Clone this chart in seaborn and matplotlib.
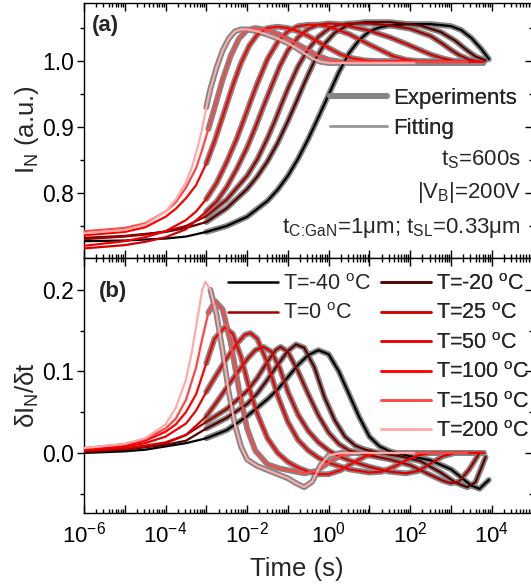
import numpy as np
import pandas as pd
import matplotlib
matplotlib.use("Agg")
import matplotlib.pyplot as plt
import seaborn as sns
from matplotlib.ticker import LogLocator, MultipleLocator, NullFormatter, FuncFormatter
from matplotlib.lines import Line2D

# ---------------------------------------------------------------- data
TEMPS = [-40, -20, 0, 25, 50, 100, 150, 200]
COLORS = ["#000000", "#5a0000", "#a00000", "#d40000", "#ee0000", "#ff0000", "#ff4545", "#ffaaaa"]
EXP_COLOR = "#858585"
EXP_START = -3.0                     # log10(t) where the measurement starts (1 ms)
FIT_END = [3.93, 3.85, 3.7, 3.4, 3.8, 3.8, 3.4, 2.1]   # log10(t) where each fit line stops

# (a) normalised current I_N versus log10(t)
LOGT_IN_M40 = [-6, -5, -4, -3.5, -3, -2.5, -2, -1.5, -1.25, -1, -0.75, -0.5, -0.25, 0, 0.25, 0.5, 0.75, 1, 1.25, 1.5, 2, 2.5, 3, 3.25, 3.5, 3.75, 3.93]
IN_M40 = [0.727, 0.728, 0.731, 0.734, 0.741, 0.750, 0.764, 0.788, 0.805, 0.826, 0.852, 0.882, 0.915, 0.949, 0.983, 1.012, 1.032, 1.045, 1.051, 1.054, 1.056, 1.056, 1.053, 1.047, 1.035, 1.018, 1.003]

LOGT_IN_M20 = [-6, -5, -4, -3.5, -3, -2.5, -2, -1.75, -1.5, -1.25, -1, -0.8, -0.6, -0.35, -0.1, 0.15, 0.4, 0.65, 0.9, 1.5, 2.25, 2.75, 3.1, 3.4, 3.6, 3.85]
IN_M20 = [0.732, 0.735, 0.741, 0.747, 0.756, 0.777, 0.806, 0.825, 0.848, 0.876, 0.909, 0.937, 0.966, 1.000, 1.026, 1.043, 1.052, 1.057, 1.059, 1.059, 1.054, 1.044, 1.031, 1.016, 1.007, 1.001]

LOGT_IN_0 = [-6, -5, -4.5, -4, -3.5, -3, -2.5, -2, -1.75, -1.5, -1.3, -1.18, -1, -0.75, -0.5, -0.25, 0, 0.25, 0.5, 1, 1.5, 2, 2.5, 2.8, 3, 3.2, 3.45, 3.7, 3.8]
IN_0 = [0.730, 0.734, 0.737, 0.742, 0.750, 0.765, 0.790, 0.826, 0.851, 0.883, 0.912, 0.931, 0.958, 0.992, 1.018, 1.037, 1.049, 1.055, 1.057, 1.057, 1.054, 1.049, 1.038, 1.026, 1.017, 1.009, 1.002, 0.999, 0.999]

LOGT_IN_25 = [-6, -5, -4.5, -4, -3.5, -3, -2.75, -2.5, -2.25, -2, -1.8, -1.6, -1.4, -1.2, -1, -0.75, -0.5, -0.25, 0, 0.25, 0.5, 1, 1.5, 1.9, 2.2, 2.5, 2.8, 3.1, 3.4, 3.8]
IN_25 = [0.716, 0.721, 0.726, 0.733, 0.745, 0.772, 0.787, 0.809, 0.837, 0.869, 0.899, 0.931, 0.962, 0.992, 1.016, 1.036, 1.049, 1.055, 1.057, 1.056, 1.053, 1.046, 1.036, 1.026, 1.018, 1.010, 1.004, 1.000, 0.999, 0.999]

LOGT_IN_50 = [-6, -5, -4.5, -4, -3.5, -3.25, -3, -2.75, -2.5, -2.25, -2.05, -1.92, -1.75, -1.5, -1.25, -1, -0.75, -0.5, -0.25, 0, 0.5, 1, 1.3, 1.6, 1.9, 2.2, 2.5, 3.8]
IN_50 = [0.720, 0.727, 0.733, 0.742, 0.759, 0.772, 0.791, 0.815, 0.847, 0.883, 0.916, 0.938, 0.966, 1.003, 1.029, 1.045, 1.053, 1.055, 1.055, 1.052, 1.041, 1.025, 1.016, 1.007, 1.002, 1.000, 0.999, 0.999]

LOGT_IN_100 = [-6, -5, -4.5, -4, -3.75, -3.5, -3.25, -3, -2.8, -2.55, -2.35, -2.15, -1.95, -1.75, -1.5, -1.25, -1, -0.75, -0.5, -0.25, 0, 0.3, 0.6, 0.9, 1.2, 3.8]
IN_100 = [0.736, 0.741, 0.748, 0.764, 0.776, 0.792, 0.812, 0.845, 0.878, 0.925, 0.963, 0.997, 1.023, 1.040, 1.050, 1.052, 1.050, 1.045, 1.038, 1.029, 1.020, 1.010, 1.004, 1.001, 1.000, 0.999]

LOGT_IN_150 = [-6, -5, -4.5, -4, -3.75, -3.5, -3.25, -3.1, -2.95, -2.78, -2.6, -2.4, -2.2, -2.0, -1.8, -1.5, -1.2, -0.9, -0.6, -0.3, 0, 0.3, 0.6, 3.4, 3.8]
IN_150 = [0.742, 0.747, 0.754, 0.772, 0.786, 0.808, 0.838, 0.866, 0.897, 0.933, 0.972, 1.008, 1.034, 1.047, 1.050, 1.047, 1.040, 1.030, 1.020, 1.009, 1.002, 0.999, 0.999, 0.999, 0.999]

LOGT_IN_200 = [-6, -5, -4.5, -4, -3.75, -3.5, -3.35, -3.2, -3.1, -3.0, -2.9, -2.75, -2.6, -2.45, -2.3, -2.15, -2.0, -1.75, -1.5, -1.25, -1, -0.8, -0.6, -0.4, -0.2, 0, 0.3, 2.1, 3.8]
IN_200 = [0.739, 0.744, 0.752, 0.772, 0.790, 0.816, 0.840, 0.872, 0.898, 0.930, 0.958, 0.990, 1.016, 1.034, 1.045, 1.048, 1.048, 1.045, 1.040, 1.034, 1.027, 1.020, 1.012, 1.004, 0.999, 0.997, 0.997, 0.997, 0.997]

# (b) derivative dI_N/dt (per decade) versus log10(t)
LOGT_D_M40 = [-6, -5, -4.5, -4, -3.5, -3, -2.5, -2, -1.5, -1.25, -1, -0.75, -0.5, -0.25, 0, 0.25, 0.5, 0.75, 1, 1.25, 1.5, 2, 2.5, 3, 3.25, 3.5, 3.7, 3.93]
D_M40 = [0.0, 0.002, 0.004, 0.008, 0.012, 0.018, 0.028, 0.045, 0.066, 0.078, 0.093, 0.108, 0.120, 0.126, 0.121, 0.100, 0.072, 0.044, 0.020, 0.008, 0.002, -0.004, -0.009, -0.020, -0.030, -0.040, -0.044, -0.033]

LOGT_D_M20 = [-6, -5, -4.5, -4, -3.5, -3, -2.5, -2, -1.75, -1.5, -1.25, -1, -0.8, -0.6, -0.35, -0.1, 0.15, 0.4, 0.65, 0.9, 1.25, 1.75, 2.25, 2.75, 3.1, 3.4, 3.6, 3.85]
D_M20 = [0.001, 0.004, 0.007, 0.010, 0.015, 0.030, 0.043, 0.060, 0.073, 0.090, 0.108, 0.125, 0.133, 0.129, 0.105, 0.068, 0.040, 0.020, 0.009, 0.004, 0.0, -0.004, -0.010, -0.024, -0.036, -0.042, -0.036, -0.005]

LOGT_D_0 = [-6, -5, -4.5, -4, -3.5, -3, -2.5, -2, -1.75, -1.5, -1.3, -1.18, -1, -0.75, -0.5, -0.25, 0, 0.25, 0.5, 1, 1.5, 2, 2.5, 2.8, 3, 3.2, 3.45, 3.7, 3.8]
D_0 = [0.002, 0.005, 0.008, 0.012, 0.022, 0.038, 0.054, 0.076, 0.092, 0.112, 0.126, 0.130, 0.124, 0.100, 0.072, 0.046, 0.025, 0.011, 0.003, -0.003, -0.008, -0.015, -0.027, -0.034, -0.037, -0.035, -0.020, 0.0, 0.0]

LOGT_D_25 = [-6, -5, -4.5, -4, -3.5, -3, -2.75, -2.5, -2.25, -2, -1.8, -1.6, -1.4, -1.2, -1, -0.75, -0.5, -0.25, 0, 0.25, 0.5, 1, 1.5, 1.9, 2.2, 2.5, 2.8, 3.1, 3.4, 3.8]
D_25 = [0.003, 0.006, 0.009, 0.013, 0.022, 0.045, 0.062, 0.080, 0.098, 0.115, 0.126, 0.130, 0.124, 0.104, 0.075, 0.047, 0.027, 0.013, 0.003, -0.004, -0.009, -0.017, -0.023, -0.025, -0.022, -0.013, -0.004, 0.0, 0.0, 0.0]

LOGT_D_50 = [-6, -5, -4.5, -4, -3.5, -3.25, -3, -2.75, -2.5, -2.25, -2.05, -1.92, -1.75, -1.5, -1.25, -1, -0.75, -0.5, -0.25, 0, 0.5, 1, 1.3, 1.6, 1.9, 2.2, 2.5, 3.8]
D_50 = [0.004, 0.008, 0.012, 0.020, 0.036, 0.052, 0.075, 0.096, 0.116, 0.134, 0.145, 0.147, 0.140, 0.110, 0.070, 0.038, 0.016, 0.003, -0.006, -0.012, -0.020, -0.024, -0.023, -0.017, -0.009, -0.003, 0.0, 0.0]

LOGT_D_100 = [-6, -5, -4.5, -4, -3.75, -3.5, -3.25, -3, -2.8, -2.55, -2.35, -2.15, -1.95, -1.75, -1.5, -1.25, -1, -0.75, -0.5, -0.25, 0, 0.3, 0.6, 0.9, 1.2, 3.8]
D_100 = [0.005, 0.010, 0.015, 0.026, 0.035, 0.050, 0.072, 0.110, 0.140, 0.154, 0.146, 0.118, 0.080, 0.048, 0.018, 0.0, -0.011, -0.018, -0.023, -0.026, -0.026, -0.021, -0.012, -0.004, 0.0, 0.0]

LOGT_D_150 = [-6, -5, -4.5, -4, -3.75, -3.5, -3.25, -3.1, -2.95, -2.78, -2.6, -2.4, -2.2, -2.0, -1.8, -1.5, -1.2, -0.9, -0.6, -0.3, 0, 0.3, 0.6, 3.4, 3.8]
D_150 = [0.006, 0.011, 0.017, 0.030, 0.042, 0.065, 0.105, 0.140, 0.172, 0.186, 0.176, 0.135, 0.078, 0.030, 0.003, -0.014, -0.019, -0.022, -0.025, -0.022, -0.012, -0.003, 0.0, 0.0, 0.0]

LOGT_D_200 = [-6, -5, -4.5, -4, -3.75, -3.5, -3.35, -3.2, -3.1, -3.02, -2.9, -2.75, -2.6, -2.45, -2.3, -2.15, -2.0, -1.75, -1.5, -1.25, -1, -0.8, -0.6, -0.4, -0.2, 0, 0.3, 2.1, 3.8]
D_200 = [0.006, 0.011, 0.018, 0.035, 0.055, 0.090, 0.125, 0.170, 0.200, 0.210, 0.200, 0.170, 0.125, 0.075, 0.035, 0.008, -0.008, -0.016, -0.021, -0.026, -0.031, -0.037, -0.042, -0.035, -0.015, -0.003, 0.0, 0.0, 0.0]

IN_CURVES = [(LOGT_IN_M40, IN_M40), (LOGT_IN_M20, IN_M20), (LOGT_IN_0, IN_0), (LOGT_IN_25, IN_25),
             (LOGT_IN_50, IN_50), (LOGT_IN_100, IN_100), (LOGT_IN_150, IN_150), (LOGT_IN_200, IN_200)]
D_CURVES = [(LOGT_D_M40, D_M40), (LOGT_D_M20, D_M20), (LOGT_D_0, D_0), (LOGT_D_25, D_25),
            (LOGT_D_50, D_50), (LOGT_D_100, D_100), (LOGT_D_150, D_150), (LOGT_D_200, D_200)]


def to_frame(curves):
    rows = []
    for temp, (lt, val) in zip(TEMPS, curves):
        for x, y in zip(lt, val):
            rows.append({"T": temp, "logt": x, "t": 10.0 ** x, "v": y})
    return pd.DataFrame(rows)


df_in = to_frame(IN_CURVES)
df_d = to_frame(D_CURVES)

# ---------------------------------------------------------------- style
sns.set_theme(style="ticks")
plt.rcParams["font.family"] = ["Liberation Sans", "DejaVu Sans"]
plt.rcParams["mathtext.fontset"] = "custom"
plt.rcParams["mathtext.rm"] = "Liberation Sans"
plt.rcParams["mathtext.it"] = "Liberation Sans:italic"
plt.rcParams["mathtext.bf"] = "Liberation Sans:bold"
plt.rcParams["mathtext.default"] = "regular"
plt.rcParams["axes.linewidth"] = 1.0
plt.rcParams["axes.edgecolor"] = "black"

W, H = 531, 584
fig = plt.figure(figsize=(W / 100, H / 100), dpi=100)
left = 84 / W
width = 448.5 / W
height = 255 / H
ax_a = fig.add_axes([left, 1 - 258 / H, width, height])
ax_b = fig.add_axes([left, 1 - 513 / H, width, height])


def dec_label(val, pos):
    e = int(round(np.log10(val)))
    return r"$\mathregular{10^{%d}}$" % e if e % 2 == 0 else ""


for ax in (ax_a, ax_b):
    ax.set_xscale("log")
    ax.set_xlim(1e-6, 1e5)
    ax.xaxis.set_major_locator(LogLocator(base=10, subs=(1.0,), numticks=30))
    ax.xaxis.set_minor_locator(LogLocator(base=10, subs=np.arange(2, 10), numticks=200))
    ax.xaxis.set_minor_formatter(NullFormatter())
    ax.tick_params(axis="x", which="both", direction="in", top=True, bottom=True,
                   width=1.0, colors="black", labelsize=16, pad=6)
    ax.tick_params(axis="x", which="major", length=6)
    ax.tick_params(axis="x", which="minor", length=3)
    ax.tick_params(axis="y", which="both", direction="out", left=True, right=False,
                   width=1.0, colors="black", labelsize=16.5, pad=2)
    ax.tick_params(axis="y", which="major", length=5)
    ax.tick_params(axis="y", which="minor", length=3)
    for s in ax.spines.values():
        s.set_color("black")
        s.set_linewidth(1.0)

ax_a.xaxis.set_major_formatter(NullFormatter())
ax_b.xaxis.set_major_formatter(FuncFormatter(dec_label))

ax_a.set_ylim(0.7015, 1.088)
ax_a.yaxis.set_major_locator(MultipleLocator(0.1))
ax_a.yaxis.set_minor_locator(MultipleLocator(0.05))
ax_a.yaxis.set_major_formatter(FuncFormatter(lambda v, p: f"{v:.1f}"))

ax_b.set_ylim(-0.0736, 0.239)
ax_b.yaxis.set_major_locator(MultipleLocator(0.1))
ax_b.yaxis.set_minor_locator(MultipleLocator(0.05))
ax_b.yaxis.set_major_formatter(FuncFormatter(lambda v, p: f"{v:.1f}"))

# inward ticks along the right-hand frame
for ax in (ax_a, ax_b):
    sec = ax.secondary_yaxis("right")
    sec.yaxis.set_major_locator(MultipleLocator(0.1))
    sec.yaxis.set_minor_locator(MultipleLocator(0.05))
    sec.yaxis.set_major_formatter(NullFormatter())
    sec.tick_params(which="both", direction="in", width=1.0, colors="black")
    sec.tick_params(which="major", length=6)
    sec.tick_params(which="minor", length=3)
    sec.spines["right"].set_linewidth(1.0)

# ---------------------------------------------------------------- curves
for ax, df in ((ax_a, df_in), (ax_b, df_d)):
    # measured transients (thick grey)
    for temp in TEMPS:
        sub = df[(df["T"] == temp) & (df["logt"] >= EXP_START)]
        sns.lineplot(data=sub, x="t", y="v", ax=ax, color=EXP_COLOR, lw=4.2,
                     estimator=None, sort=False, legend=False, solid_capstyle="round", zorder=2)
    # fitted curves
    for temp, col, end in zip(TEMPS, COLORS, FIT_END):
        sub = df[(df["T"] == temp) & (df["logt"] <= end + 1e-9)]
        sns.lineplot(data=sub, x="t", y="v", ax=ax, color=col, lw=1.6,
                     estimator=None, sort=False, legend=False, zorder=3)
    ax.set_xlabel("")
    ax.set_ylabel("")

# ---------------------------------------------------------------- labels
def fx(px):
    return px / W


def fy(py):
    return 1 - py / H


fig.text(fx(27), fy(130), r"I$_{\rm N}$ (a.u.)", rotation=90, ha="center", va="center", fontsize=18.5)
fig.text(fx(27), fy(395), r"δI$_{\rm N}$/δt", rotation=90, ha="center", va="center", fontsize=18.5)
fig.text(fx(297), fy(569), "Time (s)", ha="center", va="center", fontsize=18.5)
fig.text(fx(92), fy(26), "(a)", ha="left", va="center", fontsize=16, fontweight="bold")
fig.text(fx(99), fy(291), "(b)", ha="left", va="center", fontsize=16, fontweight="bold")

fig.text(fx(521), fy(160), r"t$_{\rm S}$=600s", ha="right", va="center", fontsize=16)
fig.text(fx(521), fy(193), r"|V$_{\rm B}$|=200V", ha="right", va="center", fontsize=16)
fig.text(fx(521), fy(228), r"t$_{\rm C\!:\!GaN}$=1μm; t$_{\rm SL}$=0.33μm", ha="right", va="center", fontsize=16)

em = 16 * 100 / 72
leg_a = ax_a.legend(
    handles=[Line2D([], [], color=EXP_COLOR, lw=4.2), Line2D([], [], color="#999999", lw=1.8)],
    labels=["Experiments", "Fitting"], loc="upper left",
    bbox_to_anchor=(fx(330), fy(88)), bbox_transform=fig.transFigure,
    frameon=False, borderpad=0, borderaxespad=0, fontsize=16,
    handlelength=57 / em, handletextpad=6 / em, labelspacing=0.4)
ax_a.add_artist(leg_a)

fs_leg = 15.5
em_b = fs_leg * 100 / 72
labels = [f"T={t} $^{{\\rm o}}$C" for t in TEMPS]
handles = [Line2D([], [], color=c, lw=1.8) for c in COLORS]
col1 = [0, 2]
col2 = [1, 3, 4, 5, 6, 7]
leg_b1 = ax_b.legend(
    handles=[handles[i] for i in col1], labels=[labels[i] for i in col1], loc="upper left",
    bbox_to_anchor=(fx(228), fy(274)), bbox_transform=fig.transFigure,
    frameon=False, borderpad=0, borderaxespad=0, fontsize=fs_leg,
    handlelength=50 / em_b, handletextpad=5 / em_b, labelspacing=0.39)
ax_b.add_artist(leg_b1)
leg_b2 = ax_b.legend(
    handles=[handles[i] for i in col2], labels=[labels[i] for i in col2], loc="upper left",
    bbox_to_anchor=(fx(381), fy(274)), bbox_transform=fig.transFigure,
    frameon=False, borderpad=0, borderaxespad=0, fontsize=fs_leg,
    handlelength=50 / em_b, handletextpad=5 / em_b, labelspacing=0.39)
ax_b.add_artist(leg_b2)

fig.savefig("out.png", dpi=100)
